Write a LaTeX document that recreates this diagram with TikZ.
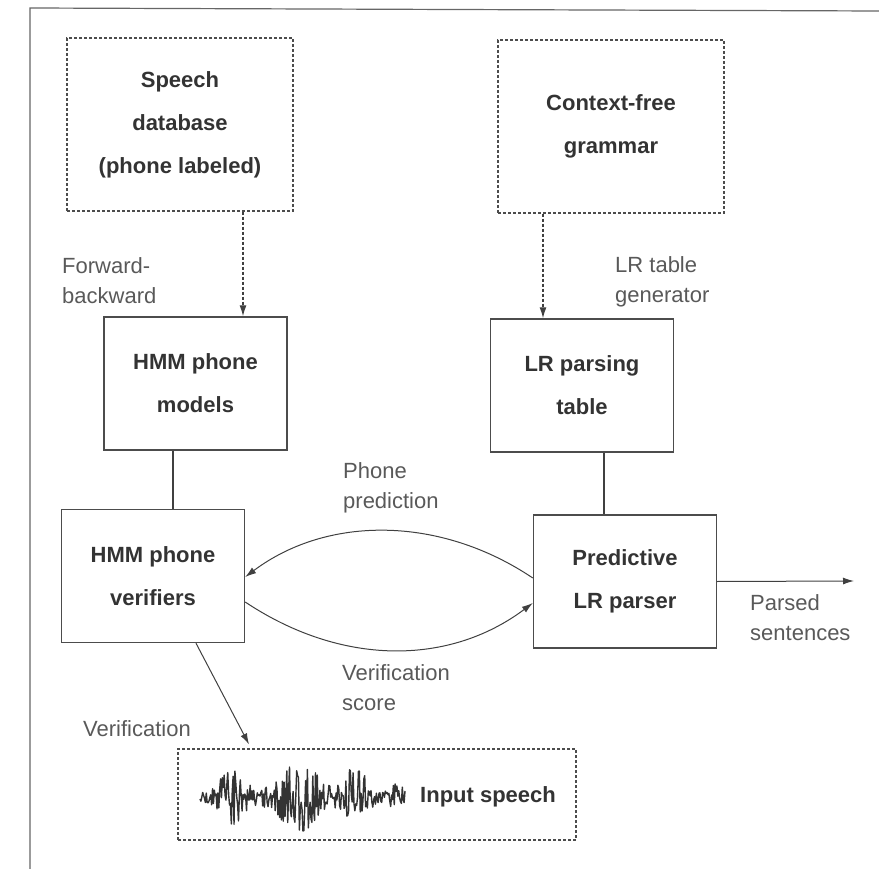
\documentclass[tikz,border=0pt]{standalone}
\usepackage{fontspec}
\setmainfont{Liberation Sans}
\usetikzlibrary{arrows.meta}

\begin{document}
\begin{tikzpicture}[
    x=1pt, y=-1pt,
    source/.style={draw=black!70, line width=1.3pt, dash pattern=on 3pt off 2pt,
      minimum width=226pt, minimum height=173pt, inner sep=0pt, align=center,
      text=black!80, font=\fontsize{22}{43}\selectfont\bfseries},
    module/.style={draw=black!70, line width=1.4pt, minimum width=183pt,
      minimum height=133pt, inner sep=0pt, align=center,
      text=black!80, font=\fontsize{22}{43}\selectfont\bfseries},
    note/.style={anchor=west, align=left, inner sep=0pt, text=black!65,
      font=\fontsize{22}{30}\selectfont},
    flow/.style={draw=black!75, line width=1pt, -{Latex[length=11pt,width=7pt]}},
    dotflow/.style={flow, line width=1.3pt, dash pattern=on 3pt off 2pt},
    link/.style={draw=black!75, line width=1.4pt}
  ]
  \useasboundingbox (0,0) rectangle (879,869);
  \draw[black!60, line width=1.2pt] (30,869) -- (30,8) -- (879,11);

  % sources
  \node[source] (speechdb) at (180,124.5) {Speech\\database\\(phone labeled)};
  \node[source] (cfg) at (611,126.5) {Context-free\\grammar};

  % modules
  \node[module] (hmmmod) at (195.5,383.5) {HMM phone\\models};
  \node[module] (lrtable) at (582,385.5) {LR parsing\\table};
  \node[module] (hmmver) at (153,576) {HMM phone\\verifiers};
  \node[module] (parser) at (625,581.5) {Predictive\\LR parser};

  % input speech
  \node[source, minimum width=398pt, minimum height=91pt] (input) at (377,794.5) {};
  \node[anchor=west, inner sep=0pt, text=black!80,
    font=\fontsize{22}{30}\selectfont\bfseries] (inlbl) at (420,797) {Input speech};
  \pgfmathsetseed{12}
  \draw[black!80, line width=1.4pt, line join=round]
    plot[domain=200:405, samples=230]
    (\x, {797 + (4 + 25*exp(-((\x-232)/16)^2) + 32*exp(-((\x-298)/26)^2)
      + 28*exp(-((\x-356)/14)^2) + 12*exp(-((\x-396)/8)^2))*rand});

  % connectors
  \draw[dotflow] ([xshift=63pt]speechdb.south) -- ([xshift=63pt]speechdb.south |- hmmmod.north);
  \draw[dotflow] ([xshift=-68pt]cfg.south) -- ([xshift=-68pt]cfg.south |- lrtable.north);
  \draw[link] ([xshift=-22.5pt]hmmmod.south) -- ([xshift=-22.5pt]hmmmod.south |- hmmver.north);
  \draw[link] ([xshift=22pt]lrtable.south) -- ([xshift=22pt]lrtable.south |- parser.north);
  \draw[flow] ([yshift=3.5pt]parser.west) .. controls +(-93,-62.5) and +(82,-61.5) .. ([yshift=-1pt]hmmver.east);
  \draw[flow] ([yshift=-26pt]hmmver.east) .. controls +(96,64) and +(-84,63) .. ([yshift=-21.5pt]parser.west);
  \coordinate (outend) at (854,581);
  \draw[flow] (parser.east) -- (outend);
  \draw[flow] ([xshift=43pt]hmmver.south) -- ([xshift=-128pt,yshift=4pt]input.north);

  % labels
  \node[note] (fblbl) at (62,280.5) {Forward-\\backward};
  \node[note] (genlbl) at (615,281.5) {LR table\\generator};
  \node[note] (predlbl) at (343,488) {Phone\\prediction};
  \node[note] (scorelbl) at (342,688) {Verification\\score};
  \node[note] (veriflbl) at (83,729) {Verification};
  \node[note] (parsedlbl) at (750,617.5) {Parsed\\sentences};
\end{tikzpicture}
\end{document}
